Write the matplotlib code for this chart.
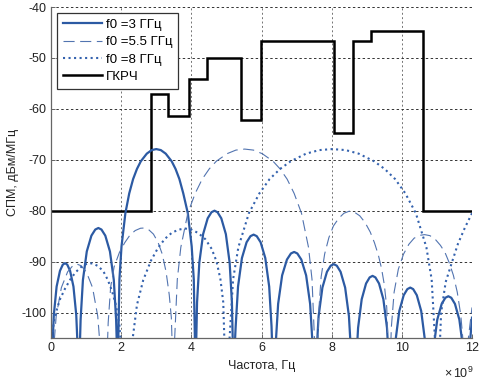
import matplotlib
matplotlib.use("Agg")
import matplotlib.pyplot as plt

plt.rcParams["font.family"] = ["Liberation Sans", "DejaVu Sans"]
plt.rcParams["axes.unicode_minus"] = False
plt.rcParams["mathtext.fontset"] = "custom"
plt.rcParams["mathtext.rm"] = "Liberation Sans"
plt.rcParams["mathtext.it"] = "Liberation Sans:italic"

# spectrum f0 = 3 GHz (frequency in GHz, level in dBm/MHz)
f_3 = [0.0, 0.032, 0.08, 0.16, 0.256, 0.336, 0.4, 0.464, 0.544, 0.64, 0.72, 0.768, 0.8,
       0.844, 0.91, 1.02, 1.152, 1.262, 1.35, 1.438, 1.548, 1.68, 1.79, 1.856, 1.9,
       1.95, 2.01, 2.12, 2.23, 2.34, 2.45, 2.56, 2.73, 2.87, 3.0, 3.13, 3.27, 3.44, 3.55, 3.66, 3.77,
       3.9, 4.01, 4.07, 4.12,
       4.163, 4.228, 4.336, 4.466, 4.574, 4.66, 4.746, 4.854, 4.984, 5.092, 5.157, 5.2,
       5.264, 5.331, 5.442, 5.575, 5.686, 5.775, 5.864, 5.975, 6.108, 6.219, 6.286, 6.33,
       6.406, 6.474, 6.588, 6.725, 6.839, 6.93, 7.021, 7.135, 7.272, 7.386, 7.454, 7.5,
       7.563, 7.628, 7.736, 7.866, 7.974, 8.06, 8.146, 8.254, 8.384, 8.492, 8.557, 8.6,
       8.691, 8.753, 8.856, 8.98, 9.083, 9.165, 9.247, 9.35, 9.474, 9.577, 9.639, 9.68,
       9.824, 9.928, 10.053, 10.157, 10.24, 10.323, 10.427, 10.552, 10.656, 10.76,
       10.905, 11.01, 11.136, 11.241, 11.325, 11.409, 11.514, 11.64, 11.745, 11.85,
       11.92, 12.0]
p_3 = [-112, -108.3, -100.5, -94.9, -91.8, -90.6, -90.3, -90.6, -91.8, -94.9, -100.5, -108.3, -112,
       -101.4, -93.6, -88.0, -84.9, -83.7, -83.4, -83.7, -84.9, -88.0, -93.6, -101.4, -112,
       -93.5, -87, -80.5, -76.6, -73.8, -71.8, -70.3, -68.8, -68.1, -67.9, -68.1, -68.8, -70.3, -71.8, -73.8, -76.6,
       -80.5, -87, -93.5, -112,
       -98, -90.2, -84.6, -81.5, -80.3, -80.0, -80.3, -81.5, -84.6, -90.2, -98, -112,
       -102.7, -94.9, -89.3, -86.2, -85.0, -84.7, -85.0, -86.2, -89.3, -94.9, -102.7, -112,
       -106.1, -98.3, -92.7, -89.6, -88.4, -88.1, -88.4, -89.6, -92.7, -98.3, -106.1, -112,
       -108.5, -100.7, -95.1, -92.0, -90.8, -90.5, -90.8, -92.0, -95.1, -100.7, -108.5, -112,
       -110.8, -103.0, -97.4, -94.3, -93.1, -92.8, -93.1, -94.3, -97.4, -103.0, -110.8, -112,
       -105.3, -99.7, -96.6, -95.4, -95.1, -95.4, -96.6, -99.7, -105.3, -112,
       -107, -101.4, -98.3, -97.1, -96.8, -97.1, -98.3, -101.4, -107, -112,
       -108, -101]

# spectrum f0 = 5.5 GHz
f_55 = [0.0, 0.059, 0.148, 0.296, 0.474, 0.622, 0.74, 0.858, 1.006, 1.184, 1.332, 1.421, 1.48,
        1.58, 1.63, 1.7, 1.8, 1.95, 2.1, 2.25, 2.4, 2.55, 2.65, 2.78, 2.92, 3.05, 3.17, 3.28, 3.37, 3.43, 3.48,
        3.6, 3.7, 3.9, 4.11, 4.31, 4.51, 4.71, 5.02, 5.27, 5.52, 5.77, 6.02, 6.33, 6.53, 6.73, 6.93,
        7.14, 7.34, 7.44, 7.55,
        7.58, 7.63, 7.7, 7.8, 7.92, 8.05, 8.2, 8.35, 8.5, 8.65, 8.8, 8.95, 9.1, 9.22, 9.33, 9.42, 9.5,
        9.57, 9.63,
        9.66, 9.7, 9.78, 9.9, 10.05, 10.2, 10.35, 10.5, 10.65, 10.8, 10.95, 11.1, 11.23, 11.35, 11.47,
        11.58, 11.68, 11.75, 11.8,
        11.88, 12.0]
p_55 = [-112, -108.5, -100.7, -95.1, -92.0, -90.8, -90.5, -90.8, -92.0, -95.1, -100.7, -108.5, -112,
        -112, -102, -95, -91, -88.2, -86.3, -84.8, -83.9, -83.45, -83.4, -83.7, -84.6, -86.2, -88.5, -92, -96.5, -101, -112,
        -93.5, -87.2, -80.5, -76.6, -73.8, -71.8, -70.3, -68.8, -68.1, -67.9, -68.1, -68.8, -70.3, -71.8, -73.8, -76.6,
        -80.5, -87.2, -93.5, -112,
        -112, -100, -93, -88.5, -85.3, -83, -81.5, -80.5, -80.1, -80.3, -81, -82.3, -84.2, -86.3, -88.7, -91.3, -94.5,
        -99, -112,
        -112, -103, -96, -91.5, -88.5, -86.6, -85.4, -84.85, -84.7, -84.9, -85.6, -86.8, -88.2, -90.2, -92.7,
        -96, -100.5, -106, -112,
        -106, -99]

# spectrum f0 = 8 GHz
f_8 = [0.0, 0.1, 0.25, 0.4, 0.55, 0.7, 0.85, 1.0, 1.1, 1.2, 1.35, 1.5, 1.62, 1.74, 1.85, 1.95, 2.05,
       2.25, 2.33, 2.45, 2.63, 2.85, 3.05, 3.25, 3.45, 3.65, 3.82, 4.0, 4.2, 4.4, 4.58, 4.72, 4.83, 4.91, 4.97,
       5.03, 5.19, 5.34, 5.64, 5.94, 6.23, 6.53, 6.83, 7.27, 7.65, 8.02, 8.4, 8.77, 9.21, 9.51, 9.81,
       10.1, 10.4, 10.7, 10.85, 11.0,
       11.05, 11.12, 11.25, 11.42, 11.6, 11.8, 12.0]
p_8 = [-106, -101, -97.5, -95.3, -93.5, -92.1, -91.1, -90.5, -90.3, -90.4, -90.9, -92, -93.6, -95.8, -98.5, -102.5, -112,
       -112, -105, -98.5, -93.6, -89.8, -87.3, -85.5, -84.3, -83.7, -83.5, -83.7, -84.4, -85.6, -87.5, -90, -93.5, -98, -112,
       -112, -93.5, -87.2, -80.5, -76.6, -73.8, -71.8, -70.3, -68.8, -68.1, -67.9, -68.1, -68.8, -70.3, -71.8, -73.8,
       -76.6, -80.5, -87.2, -93.5, -112,
       -112, -100, -94, -90.3, -86.5, -83.3, -80.5]

# ГКРЧ mask: band edges (GHz) and levels
mask_edges = [0, 2.85, 3.34, 3.93, 4.44, 5.41, 5.99, 8.07, 8.6, 9.12, 10.6, 12]
mask_levels = [-80, -57, -61.5, -54.2, -50, -62.2, -46.7, -64.8, -46.7, -44.7, -80]

labels = ["f0 =3 ГГц", "f0 =5.5 ГГц", "f0 =8 ГГц", "ГКРЧ"]

fig = plt.figure(figsize=(4.82, 3.80), dpi=100)
ax = fig.add_axes([51 / 482, 1 - 338 / 380, 421 / 482, 331 / 380])

ax.plot(f_3, p_3, color="#2c5aa3", linewidth=1.6, label=labels[0])
ax.plot(f_55, p_55, color="#5274b0", linewidth=0.8, dashes=(10, 5), label=labels[1])
ax.plot(f_8, p_8, color="#3462ae", linewidth=1.5, linestyle=":", label=labels[2])
ax.stairs(mask_levels, mask_edges, baseline=None, color="black", linewidth=1.8, label=labels[3])

ax.set_xlim(0, 12)
ax.set_ylim(-105, -40)
ax.set_xticks(range(0, 13, 2))
ax.set_yticks(range(-100, -39, 10))
# vertical grid lines are a lighter grey than the horizontal ones
ax.grid(True, axis="x", color="0.45", linestyle=(0, (2, 2.5)), linewidth=0.7)
ax.grid(True, axis="y", color="0.2", linestyle=(0, (2.5, 2.5)), linewidth=0.7)
ax.set_axisbelow(True)

for side in ["top", "right"]:
    ax.spines[side].set_visible(False)
for side in ["left", "bottom"]:
    ax.spines[side].set_color("#666666")
    ax.spines[side].set_linewidth(0.9)
ax.tick_params(direction="in", length=3, width=0.7, colors="#666666",
               labelcolor="#222222", labelsize=9, pad=3)

ax.set_xlabel("Частота, Гц", fontsize=9, color="#222222", labelpad=4)
ax.set_ylabel("СПМ, дБм/МГц", fontsize=9, color="#222222", labelpad=2)
fig.text(473 / 482, 1 - 373 / 380, r"$\times\,10^{9}$", ha="right", va="center",
         fontsize=9, color="#222222")

leg = ax.legend(loc="upper left", fontsize=9.5, fancybox=False, framealpha=1,
                edgecolor="#333333", borderaxespad=0.45, handlelength=3.0,
                handletextpad=0.25, labelspacing=0.38, borderpad=0.45)
leg.get_frame().set_linewidth(0.9)

fig.savefig("out.png", dpi=100)
